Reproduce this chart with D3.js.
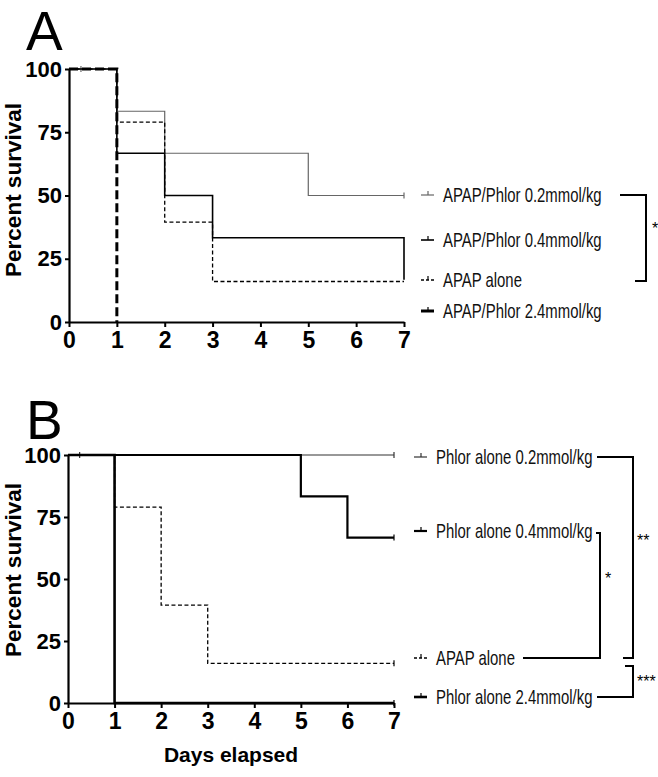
<!DOCTYPE html>
<html><head><meta charset="utf-8">
<script src="https://cdn.jsdelivr.net/npm/d3@7"></script>
<style>body{margin:0;background:#fff}svg{display:block}</style>
</head><body>
<svg id="c" width="658" height="777"></svg>
<script>
// ---------- data ----------
const dayTicks = [0,1,2,3,4,5,6,7];
const survTicks = [0,25,50,75,100];

// Panel A
const daysA02 = [0,1,2,5,7];      const survA02 = [100,83.3,66.7,50,50];
const daysA04 = [0,1,2,3,7];      const survA04 = [100,66.7,50,33.3,16.7];
const daysAAP = [0,1,2,3,7];      const survAAP = [100,79,39.5,16,16];
const daysA24 = [0,1];            const survA24 = [100,0];
const censA02 = [[0.25,100],[7,50]];

// Panel B
const daysB02 = [0,7];            const survB02 = [100,100];
const daysB04 = [0,5,6,7];        const survB04 = [100,83.3,66.7,66.7];
const daysBAP = [0,1,2,3,7];      const survBAP = [100,79,39.5,16,16];
const daysB24 = [0,1,7];          const survB24 = [100,0,0];
const censB02 = [[0.25,100],[7,100]];
const censB04 = [[7,66.7]];
const censBAP = [[7,16]];
const censB24 = [[7,0]];

const legendA = ["APAP/Phlor 0.2mmol/kg","APAP/Phlor 0.4mmol/kg","APAP alone","APAP/Phlor 2.4mmol/kg"];
const legendB = ["Phlor alone 0.2mmol/kg","Phlor alone 0.4mmol/kg","APAP alone","Phlor alone 2.4mmol/kg"];

// ---------- drawing ----------
const svg = d3.select("#c");
const FONT = "Arial, 'Liberation Sans', Helvetica, sans-serif";

function panel(cfg){
  const g = svg.append("g");
  const x = d3.scaleLinear().domain([0,7]).range([cfg.x0,cfg.x1]);
  const y = d3.scaleLinear().domain([0,100]).range([cfg.y0,cfg.y1]);
  const line = d3.line().x(d=>x(d[0])).y(d=>y(d[1])).curve(d3.curveStepAfter);

  cfg.series.forEach(s=>{
    const pts = s.days.map((d,i)=>[d,s.surv[i]]);
    g.append("path").attr("d",line(pts)).attr("fill","none")
      .attr("stroke",s.color||"#000").attr("stroke-width",s.w)
      .attr("stroke-dasharray",s.dash||null);
    (s.cens||[]).forEach(c=>{
      g.append("line").attr("x1",x(c[0])).attr("x2",x(c[0]))
        .attr("y1",y(c[1])-3).attr("y2",y(c[1])+3)
        .attr("stroke",s.color||"#000").attr("stroke-width",1.2);
    });
  });

  const xa = g.append("g").attr("transform",`translate(0,${cfg.y0})`)
    .call(d3.axisBottom(x).tickValues(dayTicks).tickFormat(d3.format("d")).tickSize(5).tickSizeOuter(0).tickPadding(5));
  const ya = g.append("g").attr("transform",`translate(${cfg.x0},0)`)
    .call(d3.axisLeft(y).tickValues(survTicks).tickSize(4).tickSizeOuter(0).tickPadding(3));
  [xa,ya].forEach(a=>{
    a.select(".domain").attr("stroke","#000").attr("stroke-width",2.2);
    a.selectAll(".tick line").attr("stroke","#000").attr("stroke-width",2);
    a.selectAll("text").attr("font-family",FONT).attr("font-weight","bold")
      .attr("font-size",22).attr("fill","#000");
  });
  xa.selectAll("text").attr("font-size",23);

  g.append("text").attr("transform",`translate(21,${cfg.ylabY}) rotate(-90)`)
    .attr("text-anchor","middle").attr("font-family",FONT).attr("font-weight","bold")
    .attr("font-size",22.5).text("Percent survival");

  g.append("text").attr("x",26).attr("y",cfg.letterY).attr("font-family",FONT)
    .attr("font-size",55).text(cfg.letter);

  // legend
  cfg.legend.forEach((t,i)=>{
    const ly = cfg.legY[i], s = cfg.series[i];
    g.append("line").attr("x1",cfg.legX).attr("x2",cfg.legX+13).attr("y1",ly).attr("y2",ly)
      .attr("stroke",s.color||"#000").attr("stroke-width",Math.min(s.w,3))
      .attr("stroke-dasharray",(s.dash && s.w<2)?"3,2":null);
    g.append("line").attr("x1",cfg.legX+7).attr("x2",cfg.legX+7).attr("y1",ly-4).attr("y2",ly)
      .attr("stroke",s.color||"#000").attr("stroke-width",1.2);
    g.append("text").attr("transform",`translate(${cfg.legX+22},${ly+7}) scale(0.745,1)`)
      .attr("font-family",FONT).attr("font-size",20).attr("fill","#111").text(t);
  });
  return g;
}

panel({x0:69,x1:404,y0:322,y1:69,ylabY:190,letter:"A",letterY:50,
  legX:421,legY:[195,240,280,311],legend:legendA,
  series:[
    {days:daysA02,surv:survA02,w:1.2,color:"#666",cens:censA02},
    {days:daysA04,surv:survA04,w:1.6},
    {days:daysAAP,surv:survAAP,w:1.3,dash:"4,2.5"},
    {days:daysA24,surv:survA24,w:3,dash:"9,4"}
  ]});

panel({x0:68,x1:394,y0:703,y1:455,ylabY:570,letter:"B",letterY:439,
  legX:414,legY:[457,531,658,697],legend:legendB,
  series:[
    {days:daysB02,surv:survB02,w:1.2,color:"#333",cens:censB02},
    {days:daysB04,surv:survB04,w:2.2,cens:censB04},
    {days:daysBAP,surv:survBAP,w:1.3,dash:"4,2.5",cens:censBAP},
    {days:daysB24,surv:survB24,w:2.6,cens:censB24}
  ]});

svg.append("text").attr("x",231).attr("y",762).attr("text-anchor","middle")
  .attr("font-family",FONT).attr("font-weight","bold").attr("font-size",21).text("Days elapsed");

// significance brackets
const brackets = [
  {d:"M620,195H646V281H635", star:"*", sx:652, sy:234},
  {d:"M597,457H633V658H623", star:"**", sx:637, sy:546},
  {d:"M523,658H600V533H596", star:"*", sx:605, sy:584},
  {d:"M625,666H633V697H597", star:"***", sx:637, sy:687}
];
brackets.forEach(b=>{
  svg.append("path").attr("d",b.d).attr("fill","none").attr("stroke","#000").attr("stroke-width",2);
  svg.append("text").attr("x",b.sx).attr("y",b.sy).attr("font-family",FONT)
    .attr("font-size",16).text(b.star);
});
</script>
</body></html>
